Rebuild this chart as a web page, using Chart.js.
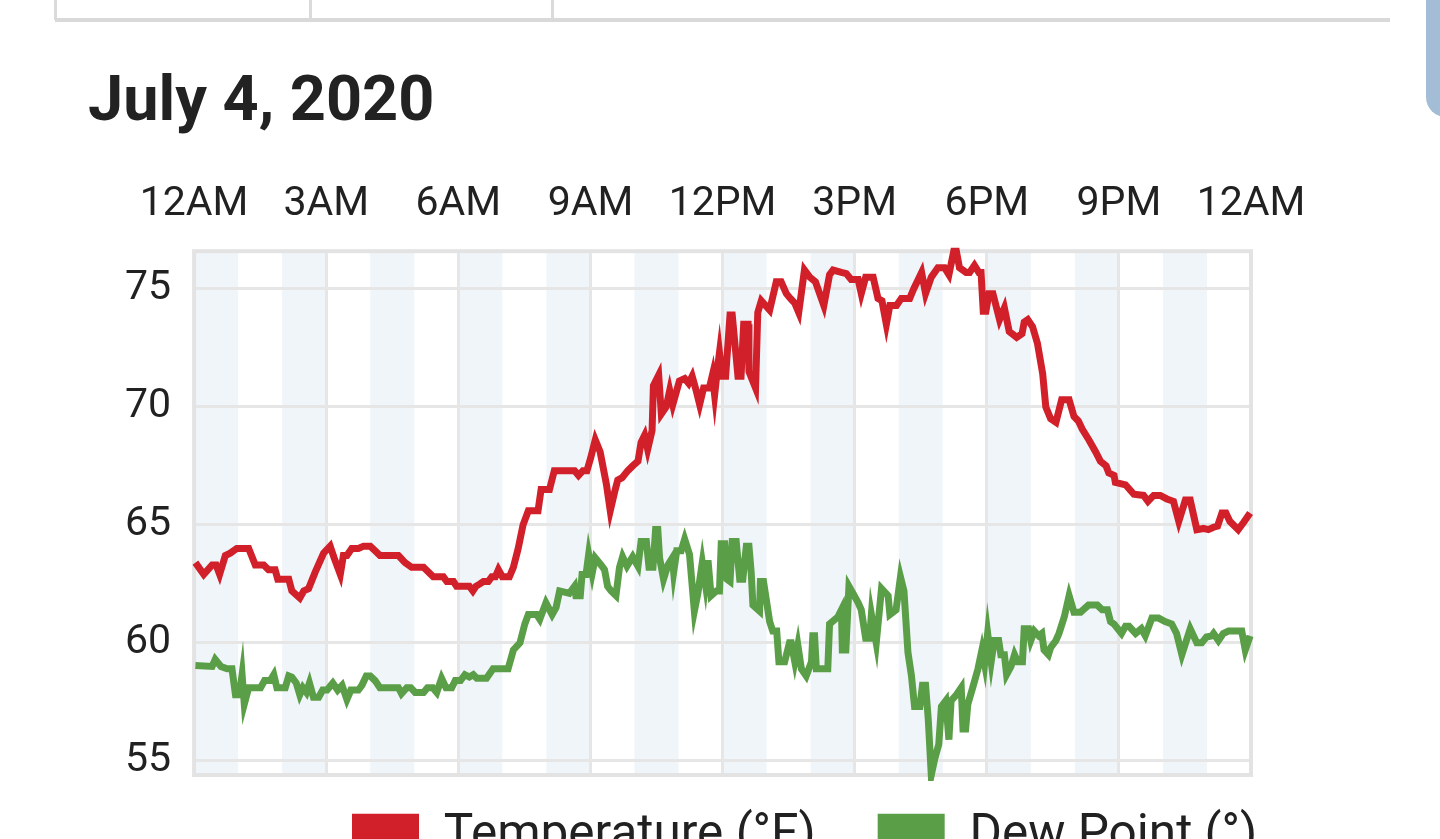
<!DOCTYPE html>
<html>
<head>
<meta charset="utf-8">
<script src="https://cdn.jsdelivr.net/npm/chart.js@4.4.1/dist/chart.umd.min.js"></script>
<style>
html,body{margin:0;padding:0;background:#fff;overflow:hidden;width:1440px;height:839px;position:relative;font-family:Roboto,sans-serif}
.vl{position:absolute;top:0;height:20px;width:3px;background:#dadada}
.hl{position:absolute;left:55px;width:1335px;top:18px;height:4px;background:#d9d9d9}
.side{position:absolute;left:1426px;top:-20px;width:30px;height:137px;background:#a3bdd6;border-bottom-left-radius:20px}
h1{position:absolute;left:88px;top:67px;margin:0;font:700 63px/64px Roboto,sans-serif;color:#222}
#wrap{position:absolute;left:0;top:140px;width:1440px;height:770px}
</style>
</head>
<body>
<div class="vl" style="left:54px"></div>
<div class="vl" style="left:309px"></div>
<div class="vl" style="left:551px"></div>
<div class="hl"></div>
<div class="side"></div>
<h1>July 4, 2020</h1>
<div id="wrap"><canvas id="c" width="1440" height="770"></canvas></div>
<script>
const seriesNames = ['Temperature (°F)', 'Dew Point (°)'];
const hourLabels = ['12AM','3AM','6AM','9AM','12PM','3PM','6PM','9PM','12AM'];
const yTickValues = [55, 60, 65, 70, 75];

const tempTimes = [0.03,0.22,0.41,0.50,0.58,0.71,0.82,0.97,1.24,1.39,1.58,1.69,1.84,1.90,2.15,2.22,2.40,2.49,2.60,2.75,2.94,3.09,3.18,3.32,3.39,3.47,3.58,3.73,3.85,4.00,4.11,4.22,4.64,4.79,4.94,5.21,5.32,5.43,5.66,5.74,5.89,5.96,6.25,6.33,6.40,6.49,6.57,6.68,6.76,6.84,6.91,7.00,7.16,7.25,7.36,7.47,7.59,7.81,7.88,8.07,8.18,8.64,8.73,8.83,8.92,9.00,9.11,9.22,9.36,9.45,9.55,9.62,9.72,9.85,9.96,10.08,10.15,10.23,10.30,10.40,10.43,10.55,10.61,10.72,10.80,10.87,11.02,11.14,11.23,11.31,11.40,11.48,11.57,11.70,11.77,11.82,11.89,11.93,11.99,12.07,12.17,12.22,12.35,12.42,12.48,12.58,12.60,12.75,12.80,12.88,13.07,13.22,13.33,13.45,13.54,13.64,13.73,13.86,13.98,14.11,14.30,14.43,14.51,14.70,14.81,14.92,15.08,15.15,15.25,15.42,15.53,15.62,15.72,15.80,15.95,16.06,16.25,16.34,16.52,16.61,16.74,16.89,17.04,17.14,17.25,17.31,17.38,17.53,17.61,17.72,17.82,17.87,17.92,17.98,18.05,18.14,18.29,18.40,18.51,18.68,18.80,18.85,18.93,19.04,19.15,19.27,19.34,19.45,19.57,19.70,19.87,19.98,20.08,20.17,20.32,20.47,20.58,20.71,20.77,20.89,20.92,21.15,21.34,21.56,21.66,21.79,21.94,22.09,22.24,22.36,22.51,22.62,22.77,22.92,23.03,23.15,23.24,23.34,23.43,23.52,23.71,23.83,23.98];
const tempValues = [63.4,62.9,63.3,63.3,62.9,63.7,63.8,64.0,64.0,63.3,63.3,63.1,63.1,62.7,62.7,62.2,61.9,62.2,62.3,63.0,63.8,64.1,63.6,62.9,63.7,63.7,64.0,64.0,64.1,64.1,63.9,63.7,63.7,63.4,63.2,63.2,63.0,62.8,62.8,62.6,62.6,62.4,62.4,62.2,62.4,62.5,62.6,62.6,62.8,62.8,63.1,62.8,62.8,63.2,64.0,65.0,65.6,65.6,66.5,66.5,67.3,67.3,67.1,67.3,67.3,67.8,68.6,68.1,66.75,65.6,66.4,66.9,67.0,67.3,67.5,67.7,68.5,68.8,68.2,69.0,70.9,71.35,69.7,70.0,70.7,70.1,71.1,71.2,71.0,71.3,70.7,70.1,70.8,70.8,71.35,70.5,71.7,72.3,71.3,71.3,73.9,73.9,71.3,71.3,73.5,73.5,71.5,70.8,74.0,74.5,74.1,75.3,75.3,74.8,74.6,74.4,74.0,75.8,75.5,75.3,74.3,75.6,75.8,75.7,75.65,75.4,75.4,74.8,75.5,75.5,74.6,74.5,73.5,74.3,74.3,74.6,74.6,75.0,75.7,74.8,75.5,75.9,75.9,75.6,76.6,76.6,75.9,75.7,75.7,76.0,75.7,75.7,74.05,74.05,74.8,74.8,73.7,74.2,73.2,72.95,73.1,73.6,73.7,73.4,72.7,71.4,70.0,69.5,69.35,70.3,70.3,69.6,69.4,69.05,68.6,68.1,67.7,67.5,67.2,67.1,66.8,66.7,66.3,66.25,66.0,66.25,66.25,66.1,66.0,65.15,66.05,66.05,64.8,64.85,64.8,64.9,64.95,65.5,65.5,65.15,64.8,65.1,65.5];

const dewTimes = [0.03,0.41,0.48,0.61,0.75,0.86,0.94,1.03,1.09,1.14,1.24,1.51,1.60,1.73,1.81,1.88,2.07,2.15,2.22,2.32,2.40,2.47,2.55,2.62,2.71,2.83,2.92,3.02,3.15,3.26,3.36,3.47,3.56,3.73,3.81,3.91,4.00,4.11,4.22,4.64,4.71,4.83,4.92,5.02,5.21,5.30,5.42,5.51,5.62,5.72,5.85,5.93,6.05,6.15,6.25,6.34,6.42,6.64,6.79,7.13,7.25,7.40,7.51,7.59,7.78,7.85,7.99,8.13,8.22,8.30,8.41,8.52,8.64,8.67,8.77,8.81,8.90,8.96,9.04,9.11,9.24,9.32,9.39,9.47,9.58,9.66,9.73,9.83,9.96,10.08,10.15,10.27,10.33,10.42,10.48,10.53,10.57,10.66,10.76,10.86,10.89,10.96,11.06,11.14,11.25,11.36,11.44,11.54,11.61,11.67,11.74,11.86,11.93,11.97,12.05,12.10,12.17,12.22,12.31,12.39,12.46,12.54,12.60,12.65,12.69,12.84,12.86,12.93,13.07,13.14,13.23,13.28,13.41,13.52,13.56,13.64,13.71,13.79,13.90,14.02,14.05,14.09,14.13,14.39,14.43,14.62,14.70,14.72,14.80,14.87,14.96,15.08,15.15,15.25,15.34,15.38,15.49,15.61,15.76,15.80,15.94,16.04,16.12,16.21,16.29,16.36,16.48,16.54,16.61,16.67,16.74,16.82,16.91,16.97,17.07,17.14,17.19,17.31,17.42,17.46,17.52,17.57,17.68,17.80,17.89,17.95,18.02,18.10,18.17,18.27,18.32,18.40,18.45,18.55,18.63,18.70,18.81,18.85,18.95,19.00,19.08,19.18,19.25,19.30,19.40,19.45,19.57,19.64,19.76,19.87,19.98,20.13,20.31,20.51,20.62,20.74,20.81,20.89,21.06,21.15,21.23,21.38,21.51,21.60,21.75,21.90,22.05,22.20,22.31,22.43,22.62,22.77,22.88,22.99,23.11,23.15,23.26,23.37,23.49,23.79,23.87,23.98];
const dewValues = [59.04,59.0,59.3,59.0,58.9,58.9,57.8,57.8,58.65,57.4,58.1,58.1,58.4,58.4,58.65,58.1,58.1,58.6,58.55,58.3,57.8,58.1,57.9,58.3,57.7,57.7,58.0,58.0,58.3,58.0,58.2,57.6,58.0,58.0,58.2,58.6,58.6,58.4,58.1,58.1,57.85,58.1,58.1,57.9,57.9,58.1,58.1,57.9,58.5,58.1,58.1,58.4,58.4,58.65,58.55,58.65,58.5,58.5,58.9,58.9,59.7,60.0,60.8,61.2,61.2,61.0,61.7,61.2,61.5,62.2,62.15,62.1,62.4,62.0,62.0,62.9,62.9,63.75,62.95,63.6,63.3,63.1,62.4,62.2,62.0,63.2,63.65,63.25,63.65,63.25,64.3,64.3,63.2,63.2,64.8,64.8,63.6,62.7,63.3,63.6,63.0,63.9,63.9,64.4,63.75,61.35,62.1,63.4,62.5,63.5,62.0,62.2,62.2,64.2,64.2,62.7,62.6,64.3,64.3,62.7,62.7,64.1,64.1,63.0,61.6,61.35,62.6,62.6,60.9,60.5,60.5,59.2,59.2,60.0,60.0,59.2,59.9,58.9,58.6,59.2,60.3,60.3,58.9,58.9,60.8,61.1,61.4,59.7,59.7,62.4,62.1,61.7,61.4,60.2,60.2,61.2,60.0,62.3,62.0,61.2,61.4,62.8,62.2,59.6,58.6,57.3,57.3,58.2,58.2,56.8,54.4,55.1,55.7,57.3,57.55,55.9,57.55,57.8,58.1,56.35,56.35,57.4,58.1,58.9,59.7,59.1,60.4,59.2,60.1,60.1,59.5,59.5,58.65,59.0,59.5,59.2,59.2,60.6,60.6,60.1,60.5,60.3,60.4,59.7,59.5,59.8,60.1,60.4,61.1,62.0,61.3,61.3,61.6,61.6,61.4,61.4,60.9,60.8,60.4,60.7,60.7,60.4,60.6,60.3,61.05,61.05,60.9,60.8,60.4,59.5,60.6,60.0,60.0,60.25,60.3,60.4,60.1,60.4,60.5,60.5,59.7,60.3];

const seriesColors = ['#d2202a', '#5b9e48'];

Chart.defaults.font.family = 'Roboto, sans-serif';
Chart.defaults.color = '#212121';

const toPoints = (ts, vs) => ts.map((t, i) => ({x: t, y: vs[i]}));

const framePlugin = {
  id: 'frame',
  beforeDraw(chart) {
    const {ctx, chartArea: a, scales: {x}} = chart;
    ctx.save();
    ctx.fillStyle = '#f0f5fa';
    for (let h = 0; h < 24; h += 2) {
      const x0 = x.getPixelForValue(h), x1 = x.getPixelForValue(h + 1);
      ctx.fillRect(x0, a.top, x1 - x0, a.bottom - a.top);
    }
    ctx.restore();
  },
  beforeDatasetsDraw(chart) {
    const {ctx, chartArea: a} = chart;
    ctx.save();
    ctx.strokeStyle = '#e3e3e3';
    ctx.lineWidth = 4;
    ctx.strokeRect(a.left, a.top, a.right - a.left, a.bottom - a.top);
    ctx.restore();
  },
  afterLayout(chart) {
    const lg = chart.legend;
    if (!lg) return;
    const pad = lg.options.labels.padding;
    const dy = (chart.chartArea.bottom + 37) - (lg.top + pad);
    lg.top += dy; lg.bottom += dy;
    lg.left = 352 - pad; lg.right = 1440;
  }
};

new Chart(document.getElementById('c'), {
  type: 'line',
  data: {
    datasets: [
      {label: seriesNames[0], data: toPoints(tempTimes, tempValues), borderColor: seriesColors[0], backgroundColor: seriesColors[0], borderWidth: 7, pointRadius: 0, tension: 0, clip: 6},
      {label: seriesNames[1], data: toPoints(dewTimes, dewValues), borderColor: seriesColors[1], backgroundColor: seriesColors[1], borderWidth: 7, pointRadius: 0, tension: 0, clip: 6}
    ]
  },
  options: {
    responsive: false,
    animation: false,
    events: [],
    layout: {padding: {top: 18, left: 102, right: 189, bottom: 13.5}},
    plugins: {
      tooltip: {enabled: false},
      title: {display: false},
      legend: {
        position: 'bottom',
        align: 'start',
        labels: {
          boxWidth: 67, boxHeight: 46, padding: 62, color: '#212121',
          font: {size: 49.5},
          generateLabels(chart) {
            return Chart.defaults.plugins.legend.labels.generateLabels(chart).map(it => Object.assign(it, {lineWidth: 0}));
          }
        }
      }
    },
    scales: {
      x: {
        type: 'linear', position: 'top', min: 0, max: 24,
        ticks: {stepSize: 3, autoSkip: false, maxRotation: 0, minRotation: 0, padding: 22, font: {size: 41}, color: '#212121',
          callback: v => hourLabels[Math.round(v / 3)]},
        grid: {color: '#e6e6e6', lineWidth: 3, drawTicks: false},
        border: {display: false}
      },
      y: {
        type: 'linear',
        min: Math.min(...dewValues, ...tempValues),
        max: Math.max(...dewValues, ...tempValues),
        afterBuildTicks: s => { s.ticks = yTickValues.map(v => ({value: v})); },
        ticks: {padding: 23, font: {size: 41}, color: '#212121'},
        grid: {color: '#e6e6e6', lineWidth: 3, drawTicks: false},
        border: {display: false}
      }
    }
  },
  plugins: [framePlugin]
});
</script>
</body>
</html>
